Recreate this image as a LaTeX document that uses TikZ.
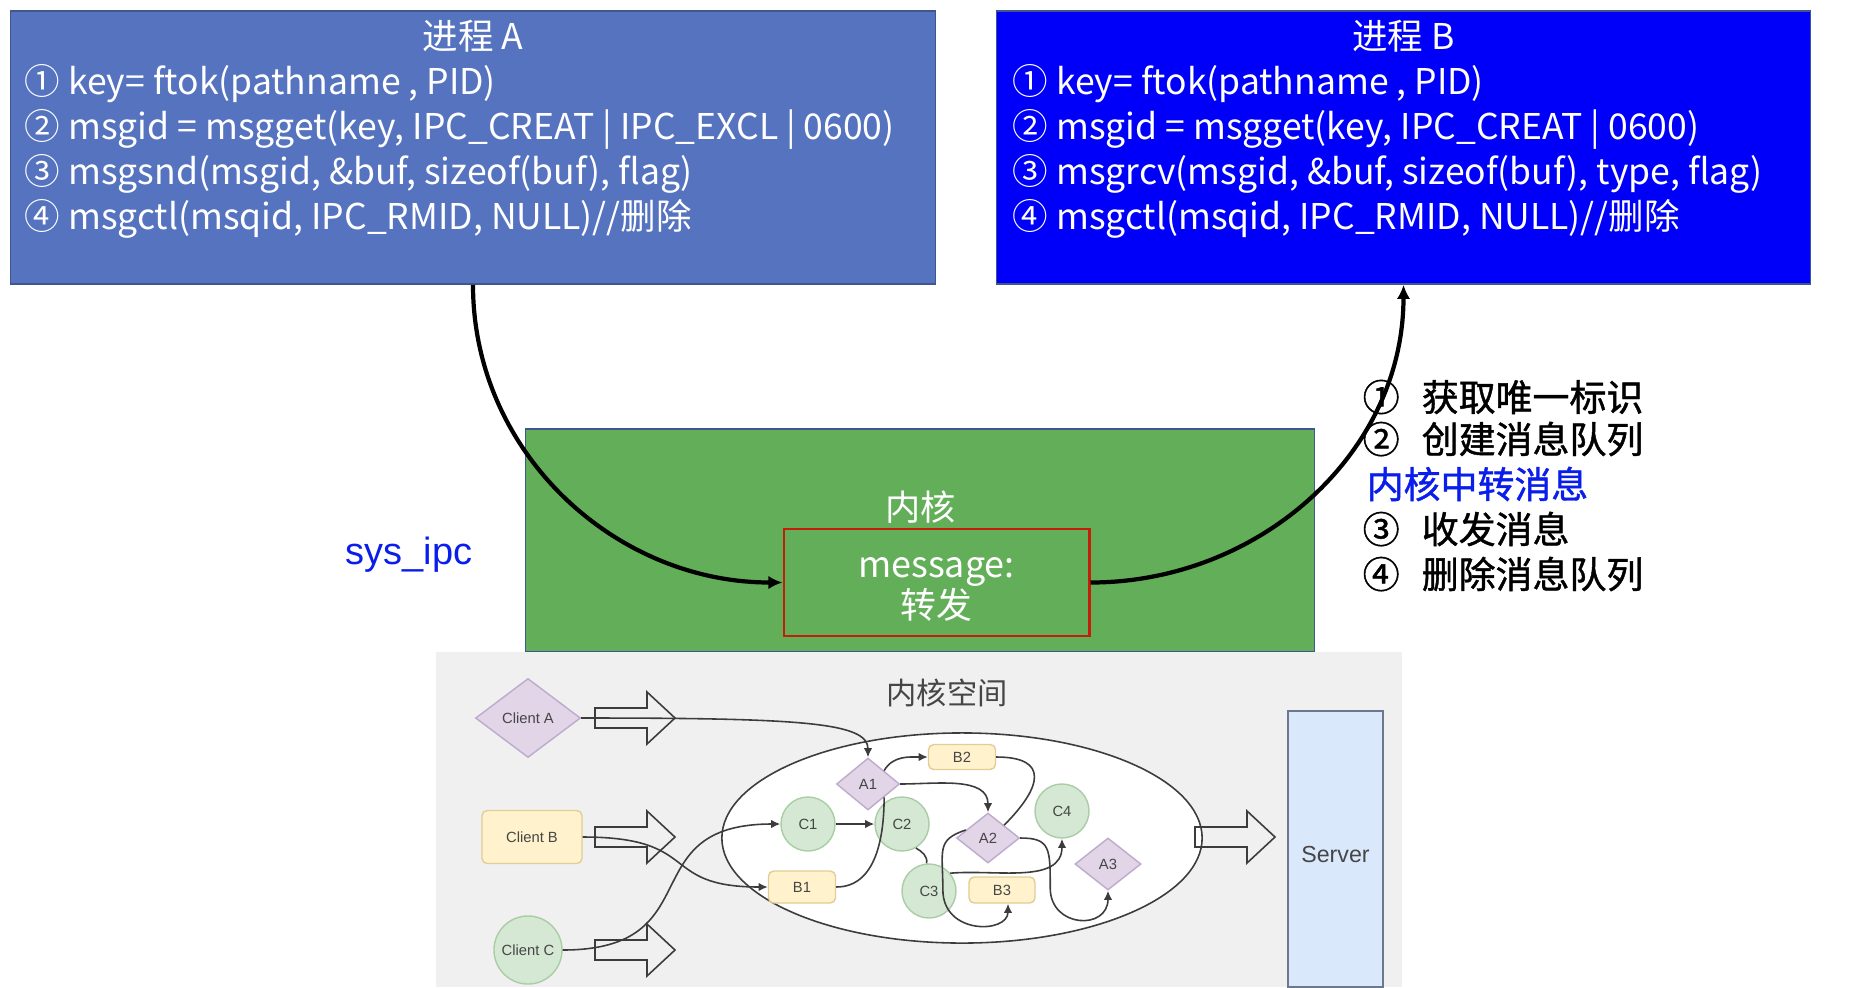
\documentclass[tikz,border=0pt]{standalone}
\usepackage{fontspec}
\setmainfont{Liberation Sans}
\newfontfamily\cjk{Noto Sans CJK SC}
\newfontfamily\cjkheavy[FakeBold=1.2]{Noto Sans CJK SC}
\usetikzlibrary{positioning,arrows.meta,shapes.geometric}

\definecolor{procAblue}{RGB}{86,115,192}
\definecolor{procBblue}{RGB}{0,0,250}
\definecolor{boxedge}{RGB}{64,86,140}
\definecolor{kernelgreen}{RGB}{99,174,88}
\definecolor{msgred}{RGB}{196,30,10}
\definecolor{ipcblue}{RGB}{10,30,235}
\definecolor{shotgray}{RGB}{240,240,241}
\definecolor{flowgray}{RGB}{60,60,60}
\definecolor{labelgray}{RGB}{70,70,70}
\definecolor{purplefill}{RGB}{225,213,231}
\definecolor{purpleedge}{RGB}{190,170,205}
\definecolor{yellowfill}{RGB}{255,242,204}
\definecolor{yellowedge}{RGB}{225,205,150}
\definecolor{greenfill}{RGB}{213,232,212}
\definecolor{greenedge}{RGB}{170,205,165}
\definecolor{serverfill}{RGB}{218,232,252}
\definecolor{serveredge}{RGB}{110,120,140}

% hollow block arrow, tail centre at (#1,#2)
\newcommand*{\blockarrow}[2]{%
  \draw[blockarr] (#1,#2-10) -- ++(52,0) -- ++(0,-16) -- ++(28,26)
    -- ++(-28,26) -- ++(0,-16) -- ++(-52,0) -- cycle;}

\begin{document}
\begin{tikzpicture}
[
	x=0.01cm, y=-0.01cm,
	procbox/.style={rectangle,draw=boxedge,inner sep=0pt},
	proctext/.style={anchor=base west,inner sep=0pt,text=white,
	  font=\cjk\fontsize{10.1pt}{12pt}\selectfont},
	steptext/.style={anchor=west,inner sep=0pt,
	  font=\cjkheavy\fontsize{10.5pt}{12pt}\selectfont},
	callarrow/.style={line width=1.2pt,-{Latex[length=4pt,width=3.8pt]}},
	cdiamond/.style={diamond,draw=purpleedge,fill=purplefill,inner sep=0pt,
	  text=labelgray,font=\fontsize{4.2pt}{5pt}\selectfont},
	crect/.style={rectangle,rounded corners=1.5pt,draw=yellowedge,fill=yellowfill,
	  inner sep=0pt,text=labelgray,font=\fontsize{4.2pt}{5pt}\selectfont},
	ccircle/.style={circle,draw=greenedge,fill=greenfill,inner sep=0pt,
	  text=labelgray,font=\fontsize{4.2pt}{5pt}\selectfont},
	blockarr/.style={draw=flowgray,line width=0.45pt},
	link/.style={draw=flowgray,line width=0.45pt},
	flow/.style={link,-{Latex[length=2.6pt,width=2.4pt]}}
]
	\useasboundingbox (0,0) rectangle (1866,987);

	% processes
	\node[procbox,fill=procAblue,minimum width=9.24cm,minimum height=2.73cm]
	  (procA) at (473,147.5) {};
	\node[procbox,fill=procBblue,minimum width=8.13cm,minimum height=2.73cm]
	  (procB) at (1403.5,147.5) {};

	\node[proctext,anchor=base] at ([yshift=-0.39cm]procA.north) {进程 A};
	\node[proctext,anchor=base] at ([yshift=-0.39cm]procB.north) {进程 B};

	\foreach \txt [count=\i] in {{① key= ftok(pathname , PID)},
	  {② msgid = msgget(key, IPC\_CREAT | IPC\_EXCL | 0600)},
	  {③ msgsnd(msgid, \&buf, sizeof(buf), flag)},
	  {④ msgctl(msqid, IPC\_RMID, NULL)//删除}}
	  \node[proctext] at (24,49+45*\i) {\txt};

	\foreach \txt [count=\i] in {{① key= ftok(pathname , PID)},
	  {② msgid = msgget(key, IPC\_CREAT | 0600)},
	  {③ msgrcv(msgid, \&buf, sizeof(buf), type, flag)},
	  {④ msgctl(msqid, IPC\_RMID, NULL)//删除}}
	  \node[proctext] at (1012,49+45*\i) {\txt};

	% kernel
	\node[procbox,fill=kernelgreen,minimum width=7.88cm,minimum height=2.23cm]
	  (kernel) at (920,540.5) {};
	\node[rectangle,draw=msgred,line width=0.8pt,fill=kernelgreen,
	  minimum width=3.05cm,minimum height=1.07cm] (msg) at (936.5,582.5) {};
	\node[align=center,text=white,inner sep=0pt,
	  font=\cjk\fontsize{10.2pt}{11.7pt}\selectfont] (msgtext)
	  at ([yshift=-0.07cm]msg.center) {message:\\转发};
	\node[above=0.03cm of msg,inner sep=0pt,text=white,xshift=-0.16cm,
	  font=\cjk\fontsize{10pt}{12pt}\selectfont] (kernellabel) {内核};

	\node[text=ipcblue,font=\fontsize{10.8pt}{12pt}\selectfont] (sysipc)
	  at (409,555) {sys\_ipc};

	\draw[callarrow] (procA.south) to[out=-90,in=180] (msg.west);
	\draw[callarrow] (msg.east) to[out=0,in=-90] (procB.south);

	% steps
	\node[steptext] (s1) at (1362,397) {①\hspace{0.6em}获取唯一标识};
	\node[steptext] (s2) at (1362,439) {②\hspace{0.6em}创建消息队列};
	\node[steptext,text=ipcblue] (s3) at (1366,484) {内核中转消息};
	\node[steptext] (s4) at (1362,529) {③\hspace{0.6em}收发消息};
	\node[steptext] (s5) at (1362,574) {④\hspace{0.6em}删除消息队列};

	% kernel space picture
	\fill[shotgray] (436,652) rectangle (1402,987);
	\node[text=labelgray,font=\cjk\fontsize{8.6pt}{10pt}\selectfont] (kspace)
	  at (947,693) {内核空间};
	\draw[link,fill=white] (962,838) ellipse [x radius=2.4cm, y radius=1.05cm];

	\blockarrow{595}{718}
	\blockarrow{595}{837}
	\blockarrow{595}{950}
	\blockarrow{1195}{837}

	\node[rectangle,draw=serveredge,fill=serverfill,minimum width=0.95cm,
	  minimum height=2.76cm,text=labelgray,font=\fontsize{6.6pt}{8pt}\selectfont,
	  text height=0.27cm] (server) at (1335.5,849) {Server};

	\node[cdiamond,minimum width=1.05cm,minimum height=0.79cm] (clientA) at (528,718) {Client A};
	\node[crect,minimum width=1.0cm,minimum height=0.53cm] (clientB) at (532,837) {Client B};
	\node[ccircle,minimum size=0.68cm] (clientC) at (528,950) {Client C};

	\node[cdiamond,minimum width=0.63cm,minimum height=0.52cm] (A1) at (868,784) {A1};
	\node[crect,minimum width=0.67cm,minimum height=0.25cm] (B2) at (962,757) {B2};
	\node[ccircle,minimum size=0.54cm] (C1) at (808,824) {C1};
	\node[ccircle,minimum size=0.54cm] (C2) at (902,824) {C2};
	\node[cdiamond,minimum width=0.63cm,minimum height=0.5cm] (A2) at (988,838) {A2};
	\node[ccircle,minimum size=0.54cm] (C4) at (1062,811) {C4};
	\node[cdiamond,minimum width=0.66cm,minimum height=0.52cm] (A3) at (1108,864) {A3};
	\node[crect,minimum width=0.67cm,minimum height=0.32cm] (B1) at (802,887) {B1};
	\node[ccircle,minimum size=0.54cm] (C3) at (929,891) {C3};
	\node[crect,minimum width=0.66cm,minimum height=0.26cm] (B3) at (1002,890) {B3};

	% flows
	\draw[flow] (clientA.east) .. controls +(220,0) and +(0,-35) .. (A1.north);
	\draw[flow] (clientB.east) .. controls +(120,0) and +(-110,0) .. (B1.west);
	\draw[flow] (clientC.east) .. controls +(150,0) and +(-150,0) .. (C1.west);
	\draw[flow] (C1.east) -- (C2.west);
	\draw[flow] (A1.north east) to[out=60,in=180] (B2.west);
	\draw[flow] (A1.east) to[out=0,in=90] (A2.north);
	\draw[link] (B1.east) to[out=0,in=-90] (A1.south east);
	\draw[link] (C2.-60) to[out=-30,in=80] (C3.95);
	\draw[link] (B2.east) to[out=0,in=45,looseness=2] (A2.north east);
	\draw[flow] (C3.40) to[out=5,in=-90] (C4.south);
	\draw[flow] (A2.160) .. controls +(-30,10) and +(0,-40) .. ++(-23,60)
	  .. controls +(0,45) and +(0,30) .. ([xshift=0.06cm]B3.south);
	\draw[flow] (A2.east) .. controls +(30,0) and +(0,-40) .. ++(30,50)
	  .. controls +(0,40) and +(0,40) .. (A3.south);

\end{tikzpicture}
\end{document}
